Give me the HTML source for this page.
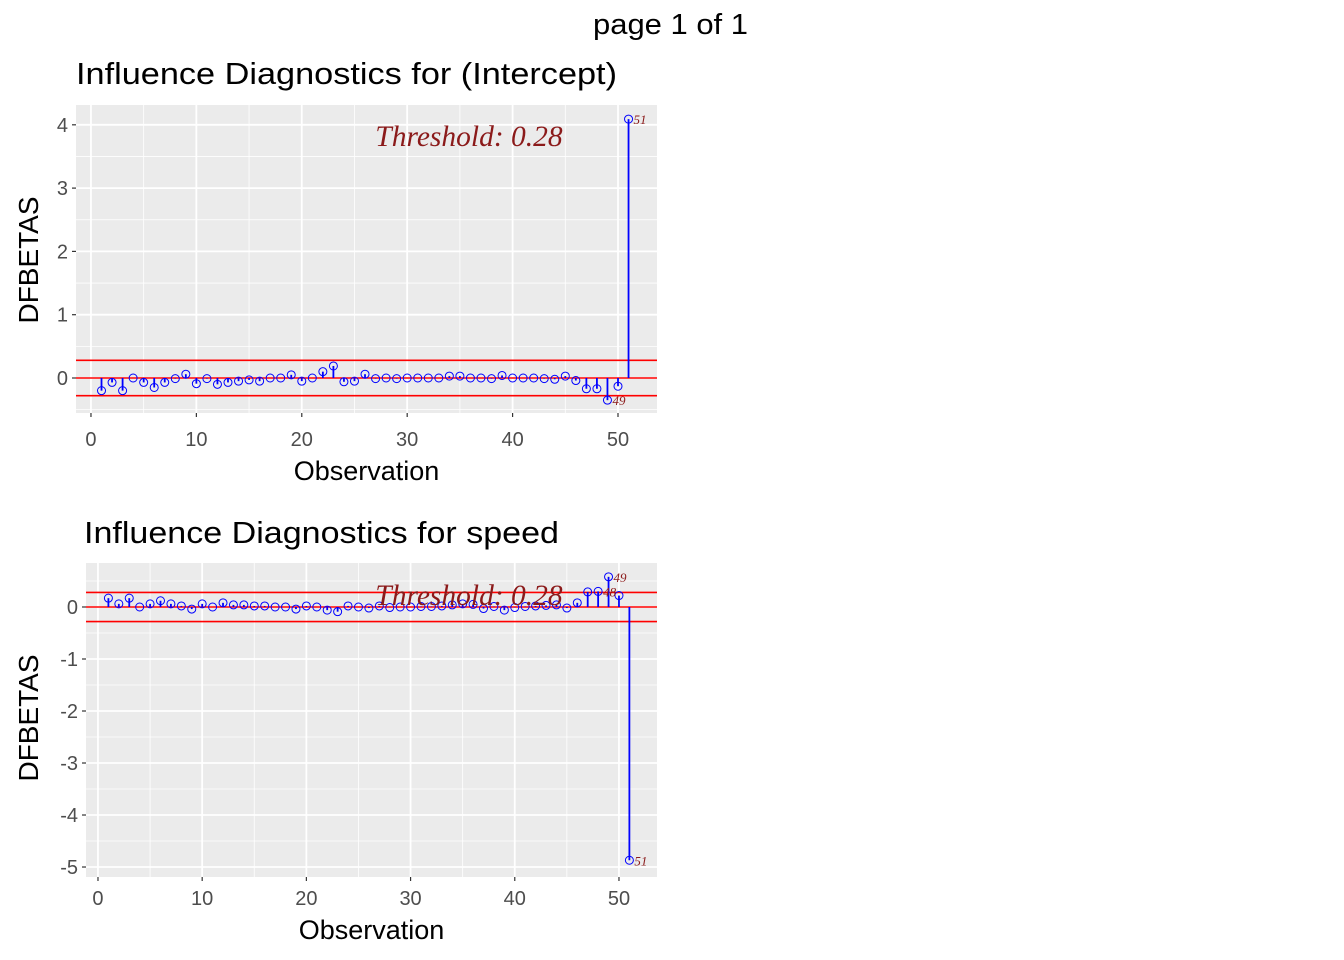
<!DOCTYPE html>
<html><head><meta charset="utf-8"><style>
html,body{margin:0;padding:0;background:#fff}
svg{display:block;font-family:"Liberation Sans",Arial,sans-serif}
</style></head><body>
<svg id="chart" width="1344" height="960" xmlns="http://www.w3.org/2000/svg">
<text x="593" y="34" font-size="29" textLength="155" lengthAdjust="spacingAndGlyphs">page 1 of 1</text>
</svg>
<script>
const obs = Array.from({length:51},(_, i)=>i+1);
const interceptVals = [-0.20,-0.07,-0.20,0.00,-0.07,-0.15,-0.07,-0.01,0.06,-0.09,-0.01,-0.10,-0.07,-0.05,-0.03,-0.05,0.00,0.00,0.05,-0.05,0.00,0.10,0.19,-0.06,-0.05,0.06,-0.01,0.00,-0.01,0.00,0.00,0.00,0.00,0.03,0.03,0.00,0.00,-0.01,0.04,0.00,0.00,0.00,-0.01,-0.02,0.03,-0.04,-0.17,-0.17,-0.35,-0.13,4.09];
const speedVals = [0.17,0.06,0.17,0.00,0.06,0.12,0.06,0.02,-0.04,0.06,0.00,0.08,0.04,0.04,0.02,0.02,0.00,0.00,-0.04,0.02,0.00,-0.06,-0.09,0.02,0.00,-0.02,0.02,-0.01,0.00,0.00,0.01,0.01,0.02,0.04,0.06,0.05,-0.03,0.01,-0.06,-0.01,0.01,0.02,0.03,0.04,-0.02,0.08,0.29,0.30,0.58,0.22,-4.87];
const threshold = 0.28;
const xTicks = [0,10,20,30,40,50];
const yTicksTop = [0,1,2,3,4];
const yTicksBottom = [-5,-4,-3,-2,-1,0];
const labelsTop = [49,51];
const labelsBottom = [48,49,51];

const NS="http://www.w3.org/2000/svg";
const svg=document.getElementById('chart');
function mk(tag,attrs,parent){const e=document.createElementNS(NS,tag);for(const k in attrs)e.setAttribute(k,attrs[k]);(parent||svg).appendChild(e);return e;}

function panel(o){
  const g=mk('g',{});
  
  
  const sx=v=>o.x0+(v-o.xmin)/(o.xmax-o.xmin)*(o.x1-o.x0);
  const sy=v=>o.y1-(v-o.ymin)/(o.ymax-o.ymin)*(o.y1-o.y0);
  const t=mk('text',{x:o.tx,y:o.ty,'font-size':31,textLength:o.tl,lengthAdjust:'spacingAndGlyphs'},g);
  t.textContent=o.title;
  
  
  const bg=mk('rect',{x:o.x0,y:o.y0,width:o.x1-o.x0,height:o.y1-o.y0,fill:'#ebebeb'},g);
  
  
  for(let v=-5;v<=55;v+=10){ if(v>o.xmin&&v<o.xmax) mk('line',{x1:sx(v),x2:sx(v),y1:o.y0,y2:o.y1,stroke:'#fff','stroke-width':0.8},g); }
  const yt=o.yticks;
  for(let i=0;i<yt.length+1;i++){ const v=(i<yt.length?yt[i]:yt[yt.length-1]+1)-0.5; if(v>o.ymin&&v<o.ymax) mk('line',{x1:o.x0,x2:o.x1,y1:sy(v),y2:sy(v),stroke:'#fff','stroke-width':0.8},g); }
  xTicks.forEach(v=>{
    mk('line',{x1:sx(v),x2:sx(v),y1:o.y0,y2:o.y1,stroke:'#fff','stroke-width':1.8},g);
    mk('line',{x1:sx(v),x2:sx(v),y1:o.y1,y2:o.y1+4,stroke:'#333','stroke-width':1.2},g);
    const l=mk('text',{x:sx(v),y:o.y1+o.xlo,'font-size':20,fill:'#4d4d4d','text-anchor':'middle'},g); l.textContent=v;
    
    
  });
  yt.forEach(v=>{
    mk('line',{x1:o.x0,x2:o.x1,y1:sy(v),y2:sy(v),stroke:'#fff','stroke-width':1.8},g);
    mk('line',{x1:o.x0-4,x2:o.x0,y1:sy(v),y2:sy(v),stroke:'#333','stroke-width':1.2},g);
    const l=mk('text',{x:o.x0-8,y:sy(v)+7,'font-size':20,fill:'#4d4d4d','text-anchor':'end'},g); l.textContent=v;
    
    
  });
  [threshold,0,-threshold].forEach(v=>{
    const ln=mk('line',{x1:o.x0,x2:o.x1,y1:sy(v),y2:sy(v),stroke:'#ff0000','stroke-width':1.6},g);
    
    
  });
  o.vals.forEach((v,i)=>{
    const x=sx(obs[i]);
    const s=mk('line',{x1:x,x2:x,y1:sy(0),y2:sy(v),stroke:'#0000ff','stroke-width':1.8},g);
    
    
    const c=mk('circle',{cx:x,cy:sy(v),r:4,fill:'none',stroke:'#0000ff','stroke-width':1},g);
    
    
  });
  o.labels.forEach(n=>{
    const v=o.vals[n-1];
    const l=mk('text',{x:sx(n)+5,y:sy(v)+5,'font-size':13,fill:'#8b1a1a','font-style':'italic','font-family':'"Liberation Serif",serif'},g);
    l.textContent=n;
    
    
  });
  const th=mk('text',{x:469,y:o.thy,'font-size':29.5,fill:'#8b1a1a','font-style':'italic','text-anchor':'middle','font-family':'"Liberation Serif",serif'},g);
  th.textContent='Threshold: 0.28';
  
  
  const xa=mk('text',{x:(o.x0+o.x1)/2,y:o.y1+o.xto,'font-size':27,'text-anchor':'middle'},g);
  xa.textContent='Observation';
  
  
  const ya=mk('text',{x:0,y:0,'font-size':28,'text-anchor':'middle',transform:`translate(38,${o.yc}) rotate(-90)`},g);
  ya.textContent='DFBETAS';
  
  
}
panel({name:'intercept-panel',title:'Influence Diagnostics for (Intercept)',tx:76,ty:84,tl:541,x0:76,x1:657,y0:105,y1:413,xmin:-1.42,xmax:53.7,ymin:-0.553,ymax:4.313,yticks:yTicksTop,vals:interceptVals,labels:labelsTop,thy:146,xlo:33,xto:67,yc:260});
panel({name:'speed-panel',title:'Influence Diagnostics for speed',tx:84,ty:543,tl:475,x0:86,x1:657,y0:563,y1:877,xmin:-1.15,xmax:53.65,ymin:-5.192,ymax:0.846,yticks:yTicksBottom,vals:speedVals,labels:labelsBottom,thy:605,xlo:28,xto:62,yc:718});
</script>
</body></html>
